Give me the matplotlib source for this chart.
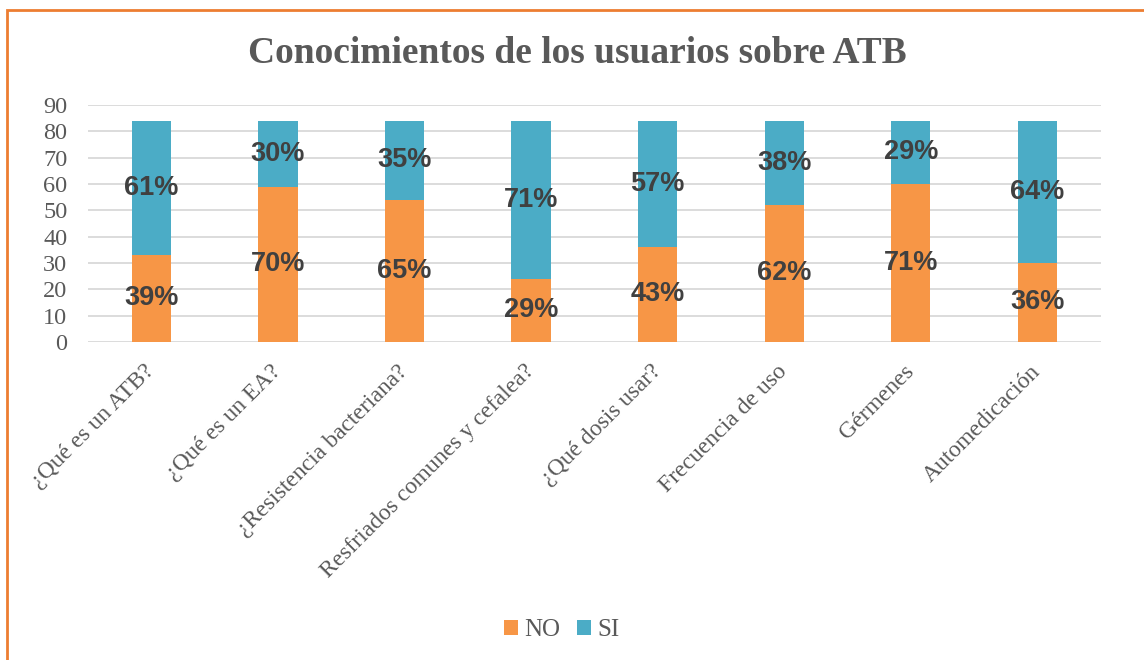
import numpy as np
import matplotlib.pyplot as plt
from matplotlib.patches import Rectangle

categories = ["¿Qué es un ATB?", "¿Qué es un EA?", "¿Resistencia bacteriana?",
              "Resfriados comunes y cefalea?", "¿Qué dosis usar?", "Frecuencia de uso",
              "Gérmenes", "Automedicación"]
no_vals = [33, 59, 54, 24, 36, 52, 60, 30]
si_vals = [51, 25, 30, 60, 48, 32, 24, 54]
no_pct = ["39%", "70%", "65%", "29%", "43%", "62%", "71%", "36%"]
si_pct = ["61%", "30%", "35%", "71%", "57%", "38%", "29%", "64%"]

ORANGE = "#F79646"
BLUE = "#4BACC6"
SERIF = "Liberation Serif"
SANS = "Liberation Sans"

fig = plt.figure(figsize=(11.44, 6.6), dpi=100)
ax = fig.add_axes([0.077, 0.482, 0.885, 0.359])

x = np.arange(len(categories))
w = 0.31
no = np.array(no_vals)
si = np.array(si_vals)
ax.bar(x, no, w, color=ORANGE, label="NO", zorder=3)
ax.bar(x, si, w, bottom=no, color=BLUE, label="SI", zorder=3)

for i in range(len(x)):
    ax.text(x[i], no[i] / 2, no_pct[i], ha="center", va="center",
            fontsize=19.5, fontweight="bold", family=SANS, color="#404040", zorder=4)
    ax.text(x[i], no[i] + si[i] / 2, si_pct[i], ha="center", va="center",
            fontsize=19.5, fontweight="bold", family=SANS, color="#404040", zorder=4)

ax.set_xlim(-0.5, len(x) - 0.5)
ax.set_ylim(0, 90)
ax.set_yticks(range(0, 91, 10))
ax.yaxis.grid(True, color="#D9D9D9", lw=1.3, zorder=0)
for s in ax.spines.values():
    s.set_visible(False)
ax.tick_params(length=0)
ax.tick_params(axis="y", pad=15)
ax.set_yticklabels([str(v) for v in range(0, 91, 10)], family=SERIF, fontsize=17.5, color="#595959")
ax.set_xticks(x)
ax.set_xticklabels(categories, rotation=45, ha="right", va="center", rotation_mode="anchor",
                   family=SERIF, fontsize=17, color="#595959")
ax.tick_params(axis="x", pad=19)

fig.text(0.505, 0.919, "Conocimientos de los usuarios sobre ATB", ha="center", va="center",
         family=SERIF, fontsize=27, fontweight="bold", color="#595959")

leg = fig.legend(loc="center", bbox_to_anchor=(0.491, 0.045), ncol=2, frameon=False,
                 prop={"family": SERIF, "size": 18}, handlelength=0.55, handleheight=0.55,
                 handletextpad=0.25, columnspacing=0.7)
for t in leg.get_texts():
    t.set_color("#595959")

fig.patches.append(Rectangle((7 / 1144, -0.01), 1.0, 1 - 10 / 660 + 0.01, transform=fig.transFigure,
                             fill=False, edgecolor="#ED7D31", lw=2))

fig.savefig("out.png", dpi=100)
